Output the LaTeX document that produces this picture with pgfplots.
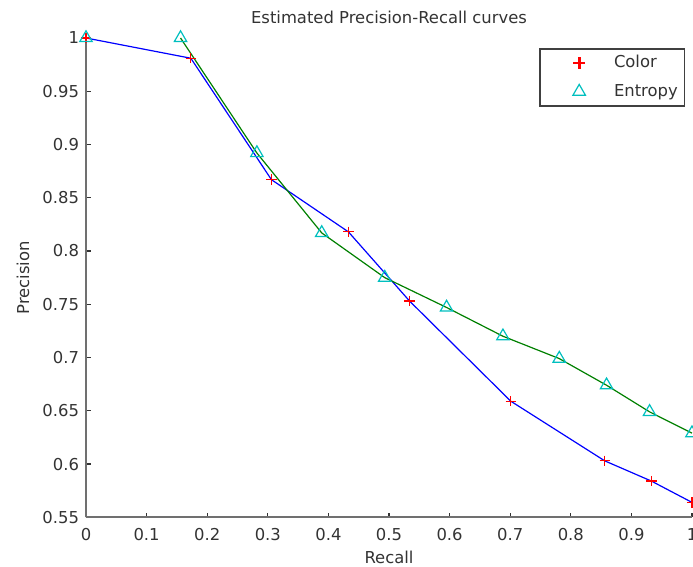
\documentclass[border=0pt]{standalone}
\usepackage{fontspec}
\setmainfont{DejaVu Sans}
\usepackage{pgfplots}
\pgfplotsset{compat=1.18}
\definecolor{mblue}{rgb}{0,0,1}
\definecolor{mgreen}{rgb}{0,0.5,0}
\definecolor{mred}{rgb}{1,0,0}
\definecolor{mcyan}{rgb}{0,0.75,0.75}
\definecolor{axgray}{HTML}{707070}
\definecolor{txt}{HTML}{333333}
\newcommand\f{\fontsize{8.2bp}{10bp}\selectfont}

\begin{document}
\begin{tikzpicture}
\begin{axis}[
  scale only axis, width=303bp, height=239.65bp,
  xmin=0, xmax=1, ymin=0.55, ymax=1,
  xtick={0,0.1,0.2,0.3,0.4,0.5,0.6,0.7,0.8,0.9,1},
  ytick={0.55,0.6,0.65,0.7,0.75,0.8,0.85,0.9,0.95,1},
  axis x line=bottom, axis y line=left,
  axis line style={-, draw=axgray, line width=1.1bp},
  tick style={draw=black!80, line width=0.6bp},
  major tick length=2.3bp, tick align=inside,
  tick label style={font=\f, text=txt, /pgf/number format/assume math mode=true},
  x tick label style={yshift=-2bp},
  title={Estimated Precision-Recall curves},
  xlabel={Recall}, ylabel={Precision},
  every axis title shift=0pt,
  title style={at={(axis description cs:0.5,1.0438)}, anchor=center, font=\f, text=txt},
  xlabel style={at={(axis description cs:0.5,-0.0828)}, anchor=center, font=\f, text=txt},
  ylabel style={at={(axis description cs:-0.104,0.5)}, anchor=center, font=\f, text=txt},
  clip=false,
  legend style={at={(axis description cs:1,1)}, anchor=north east,
    xshift=-3.5bp, yshift=-5.15bp, draw=black!75, line width=0.7bp,
    fill=white, inner sep=0pt, font=\f,
    nodes={inner sep=0pt, text width=35.15bp, align=left, anchor=west, text=txt},
    cells={anchor=west}},
]
% lines
\addplot[mblue, line width=0.6bp, forget plot] coordinates {
(0,1) (0.173,0.981) (0.306,0.867) (0.433,0.818) (0.534,0.753)
(0.701,0.659) (0.856,0.603) (0.933,0.584) (1,0.564)};
\addplot[mgreen, line width=0.6bp, forget plot] coordinates {
(0.156,1) (0.282,0.892) (0.389,0.817) (0.493,0.775) (0.595,0.747)
(0.688,0.720) (0.781,0.699) (0.859,0.674) (0.930,0.649) (1,0.629)};
% markers
\addplot[only marks, mark=+, mark size=2.6bp, mred, mark options={line width=0.6bp},
  legend image code/.code={\useasboundingbox[draw=none] (-19.6bp,-7.1bp) rectangle (17.4bp,7.1bp);
    \fill[mred] (-2.6bp,-0.3bp) rectangle (2.6bp,0.3bp);
    \fill[mred] (-0.3bp,-2.6bp) rectangle (0.3bp,2.6bp);}] coordinates {
(0,1) (0.173,0.981) (0.306,0.867) (0.433,0.818) (0.534,0.753)
(0.701,0.659) (0.856,0.603) (0.933,0.584) (1,0.564)};
\addlegendentry{Color}
\addplot[only marks, mark=triangle, mark size=3.6bp, mcyan, mark options={line width=0.6bp},
  legend image code/.code={\useasboundingbox[draw=none] (-19.6bp,-7.1bp) rectangle (17.4bp,7.1bp);
    \draw[draw=mcyan, line width=0.6bp] (90:3.6bp)--(210:3.6bp)--(330:3.6bp)--cycle;}] coordinates {
(0,1) (0.156,1) (0.282,0.892) (0.389,0.817) (0.493,0.775) (0.595,0.747)
(0.688,0.720) (0.781,0.699) (0.859,0.674) (0.930,0.649) (1,0.629)};
\addlegendentry{Entropy}
\coordinate (sw) at (axis cs:0,0.55);
\coordinate (ne) at (axis cs:1,1);
\end{axis}
\pgfresetboundingbox
\path[use as bounding box] ([shift={(-43bp,-24.85bp)}]sw) rectangle ([shift={(0.5bp,19bp)}]ne);
\end{tikzpicture}
\end{document}
